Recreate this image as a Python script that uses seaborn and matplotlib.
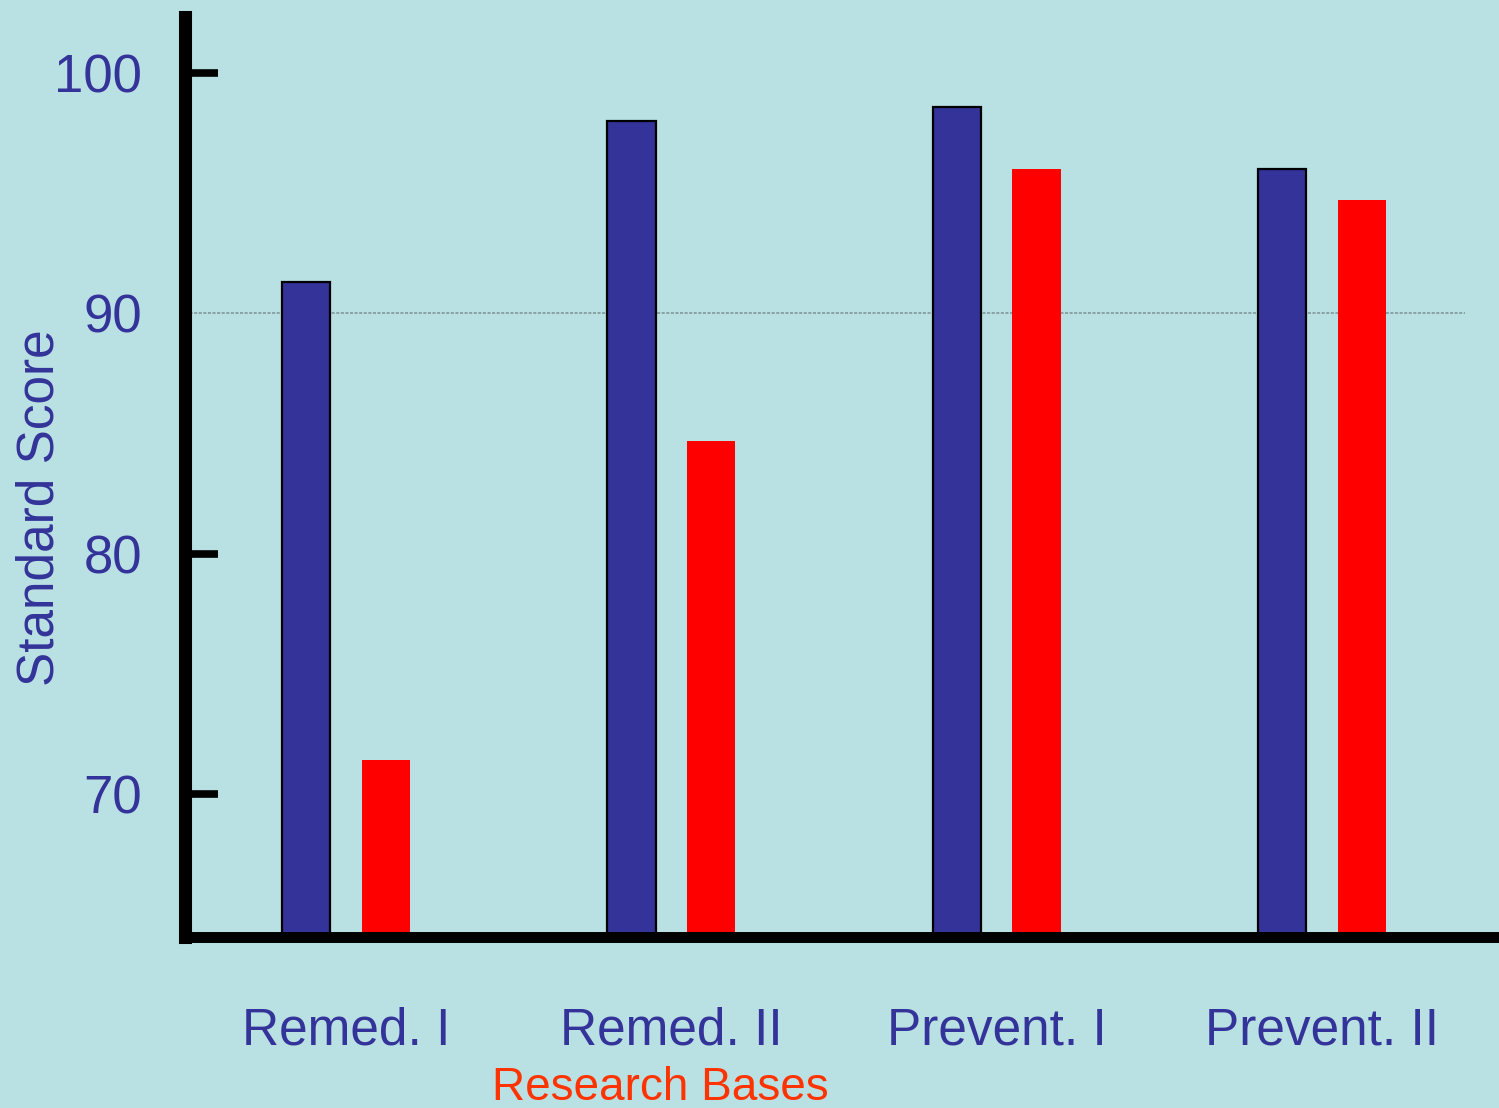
import matplotlib
matplotlib.use("Agg")
import matplotlib.pyplot as plt
import pandas as pd
import seaborn as sns

# Data
categories = ["Remed. I", "Remed. II", "Prevent. I", "Prevent. II"]
series_names = ["Measure A", "Measure B"]
blue_scores = [91.3, 98.0, 98.6, 96.0]
red_scores = [71.4, 84.7, 96.0, 94.7]
y_ticks = [70, 80, 90, 100]

# Colours
BG = "#B9E0E3"
BLUE = "#333399"
RED = "#FF0000"
XLABEL_RED = "#FF3300"

sns.set_style("white")
plt.rcParams["font.family"] = ["Liberation Sans", "DejaVu Sans"]

df = pd.DataFrame({
    "group": categories * 2,
    "series": [series_names[0]] * len(categories) + [series_names[1]] * len(categories),
    "score": blue_scores + red_scores,
})

W, H = 1499, 1108
AX_TOP = 16.5
fig = plt.figure(figsize=(W / 100, H / 100), dpi=100, facecolor=BG)
ax = fig.add_axes([185 / W, 1 - 937 / H, 1312 / W, (937 - AX_TOP) / H])
ax.set_facecolor(BG)

sns.barplot(
    data=df, x="group", y="score", hue="series",
    order=categories, hue_order=series_names,
    palette=[BLUE, RED], saturation=1,
    width=0.49, gap=0.396, legend=False, ax=ax, zorder=3,
)

# Outline the blue bars only
for bar in ax.containers[0]:
    bar.set_edgecolor("black")
    bar.set_linewidth(1.6)
for bar in ax.containers[1]:
    bar.set_edgecolor("none")
    bar.set_linewidth(0)

ax.set_ylim(64.05, 102.35)
ax.set_xlim(-0.495, 3.538)

# Single dotted reference line at 90
ax.axhline(90, xmin=0, xmax=(1465 - 185) / 1312, color="#7a9294",
           lw=1.1, ls=(0, (2, 1)), zorder=1)

# Axes styling
for side in ("top", "right"):
    ax.spines[side].set_visible(False)
ax.spines["left"].set_linewidth(9.4)
ax.spines["bottom"].set_linewidth(7.9)
ax.spines["left"].set_color("black")
ax.spines["bottom"].set_color("black")
ax.spines["left"].set_zorder(4)
ax.spines["bottom"].set_zorder(4)

ax.set_yticks(y_ticks)
ax.set_yticklabels([str(v) for v in y_ticks])
ax.tick_params(axis="y", direction="in", length=24, width=5.5, color="black",
               labelcolor=BLUE, labelsize=38, pad=31, left=True)
ax.tick_params(axis="x", length=0, labelcolor=BLUE, labelsize=37, pad=50)

# The 90 level carries the dotted line instead of a tick mark
for tick, val in zip(ax.yaxis.get_major_ticks(), y_ticks):
    if val == 90:
        tick.tick1line.set_visible(False)

ax.set_ylabel("Standard Score", color=BLUE, fontsize=37, va="center")
ax.yaxis.set_label_coords((40 - 185) / 1312, (937 - 508) / (937 - AX_TOP))

ax.set_xlabel("Research Bases", color=XLABEL_RED, fontsize=33, va="center")
ax.xaxis.set_label_coords((660 - 185) / 1312, (937 - 1088) / (937 - AX_TOP))

fig.savefig("out.png", dpi=100, facecolor=BG)
